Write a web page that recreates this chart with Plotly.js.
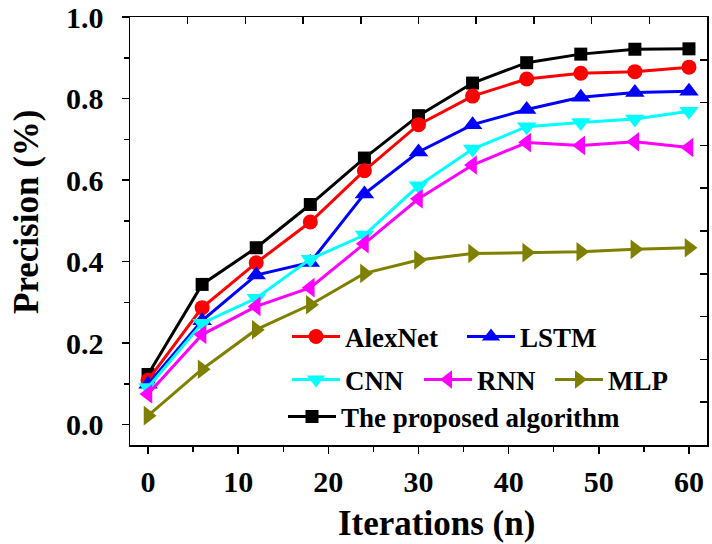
<!DOCTYPE html>
<html>
<head>
<meta charset="utf-8">
<script src="https://cdn.plot.ly/plotly-3.0.1.min.js"></script>
<style>html,body{margin:0;padding:0;background:#fff;}#chart{width:712px;height:544px;}</style>
</head>
<body>
<div id="chart"></div>
<script>
var iterations = [0, 6, 12, 18, 24, 30, 36, 42, 48, 54, 60];
var alexnet  = [0.109, 0.287, 0.397, 0.497, 0.623, 0.736, 0.806, 0.848, 0.862, 0.866, 0.877];
var lstm     = [0.099, 0.255, 0.367, 0.398, 0.566, 0.669, 0.736, 0.773, 0.803, 0.815, 0.818];
var cnn      = [0.091, 0.249, 0.310, 0.406, 0.465, 0.586, 0.676, 0.731, 0.741, 0.750, 0.769];
var rnn      = [0.075, 0.221, 0.290, 0.336, 0.444, 0.554, 0.637, 0.692, 0.685, 0.694, 0.680];
var mlp      = [0.022, 0.136, 0.233, 0.294, 0.371, 0.404, 0.420, 0.422, 0.424, 0.430, 0.434];
var proposed = [0.123, 0.344, 0.434, 0.540, 0.654, 0.758, 0.838, 0.888, 0.909, 0.921, 0.922];
var seriesNames = ['AlexNet', 'LSTM', 'CNN', 'RNN', 'MLP', 'The proposed algorithm'];
var yTickVals = [0.0, 0.2, 0.4, 0.6, 0.8, 1.0];
var yTickText = ['0.0', '0.2', '0.4', '0.6', '0.8', '1.0'];
var xTickVals = [0, 10, 20, 30, 40, 50, 60];

var FONT = 'Liberation Serif';
var L = 130, R = 5, T = 17, B = 99, W = 712, H = 544;
var pw = W - L - R, ph = H - T - B;
function px2x(px) { return (px - L) / pw; }
function py2y(py) { return (H - B - py) / ph; }

function tr(name, y, color, symbol, size, legend) {
  return {
    x: iterations, y: y, name: name, type: 'scatter', mode: 'lines+markers',
    line: {color: color, width: 3},
    marker: {color: color, symbol: symbol, size: size, line: {width: 0}},
    legend: legend, hoverinfo: 'skip', cliponaxis: false
  };
}

var data = [
  tr(seriesNames[5], proposed, '#000000', 'square', 13, 'legend6'),
  tr(seriesNames[0], alexnet, '#ff0000', 'circle', 15, 'legend'),
  tr(seriesNames[1], lstm, '#0000ff', 'triangle-up', 17, 'legend2'),
  tr(seriesNames[2], cnn, '#00ffff', 'triangle-down', 17, 'legend3'),
  tr(seriesNames[3], rnn, '#ff00ff', 'triangle-left', 17, 'legend4'),
  tr(seriesNames[4], mlp, '#808000', 'triangle-right', 17, 'legend5'),
  {x: [null], y: [null], xaxis: 'x2', yaxis: 'y2', type: 'scatter', mode: 'markers',
   showlegend: false, hoverinfo: 'skip'}
];

function leg(symStartPx, rowPy) {
  return {
    x: px2x(symStartPx - 3), xref: 'paper', xanchor: 'left',
    y: py2y(rowPy), yref: 'paper', yanchor: 'middle',
    bgcolor: 'rgba(0,0,0,0)', borderwidth: 0,
    font: {family: FONT, size: 27, color: '#000', weight: 'bold'},
    orientation: 'h', itemwidth: 48
  };
}

var layout = {
  width: W, height: H,
  margin: {l: L, r: R, t: T, b: B, pad: 0},
  paper_bgcolor: '#fff', plot_bgcolor: '#fff',
  font: {family: FONT, color: '#000'},
  showlegend: true,
  legend: leg(290, 337),
  legend2: leg(465, 337),
  legend3: leg(290, 380),
  legend4: leg(422, 380),
  legend5: leg(553, 380),
  legend6: leg(286, 417),
  xaxis: {
    range: [-2, 62], tickvals: xTickVals, ticks: 'outside', ticklen: 7, tickwidth: 1.5,
    tickcolor: '#000', showline: true, linecolor: '#000', linewidth: 1.5, mirror: true,
    showgrid: false, zeroline: false, ticklabelstandoff: 2, ticklabeloverflow: 'allow',
    tickfont: {family: FONT, size: 30, color: '#000', weight: 'bold'},
    minor: {dtick: 5, tick0: 0, ticks: 'outside', ticklen: 5, tickwidth: 1.5, tickcolor: '#000', showgrid: false}
  },
  yaxis: {
    range: [-0.05, 1.0001], tickvals: yTickVals, ticktext: yTickText, ticks: 'outside', ticklen: 7, tickwidth: 1.5,
    tickcolor: '#000', showline: true, linecolor: '#000', linewidth: 1.5, mirror: true,
    showgrid: false, zeroline: false, ticklabelstandoff: 12, ticklabeloverflow: 'allow',
    tickfont: {family: FONT, size: 30, color: '#000', weight: 'bold'},
    minor: {dtick: 0.1, tick0: 0, ticks: 'outside', ticklen: 5, tickwidth: 1.5, tickcolor: '#000', showgrid: false}
  },
  xaxis2: {
    overlaying: 'x', side: 'top', anchor: 'y2', range: [0, 10], dtick: 1, tick0: 0,
    ticks: 'inside', ticklen: 7, tickwidth: 1.5, tickcolor: '#000',
    showticklabels: false, showgrid: false, zeroline: false, showline: false
  },
  yaxis2: {
    overlaying: 'y', side: 'right', anchor: 'x2', range: [0, 10], dtick: 1, tick0: 0,
    ticks: 'inside', ticklen: 7, tickwidth: 1.5, tickcolor: '#000',
    showticklabels: false, showgrid: false, zeroline: false, showline: false
  },
  annotations: [
    {text: 'Iterations (n)', xref: 'paper', yref: 'paper', x: px2x(436), y: py2y(523),
     xanchor: 'center', yanchor: 'middle', showarrow: false,
     font: {family: FONT, size: 35, color: '#000', weight: 'bold'}},
    {text: 'Precision (%)', xref: 'paper', yref: 'paper', x: px2x(26), y: py2y(212), textangle: -90,
     xanchor: 'center', yanchor: 'middle', showarrow: false,
     font: {family: FONT, size: 35, color: '#000', weight: 'bold'}}
  ]
};

Plotly.newPlot('chart', data, layout, {displayModeBar: false, staticPlot: true});
</script>
</body>
</html>
